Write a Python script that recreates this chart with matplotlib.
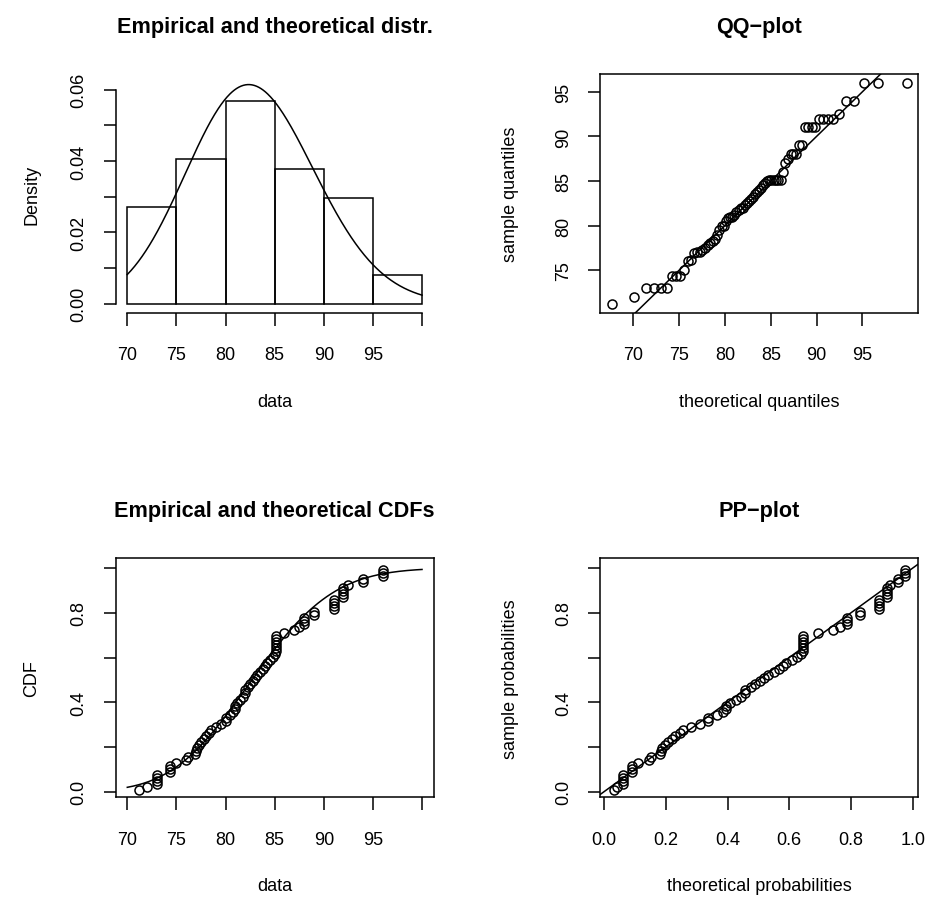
import math
import numpy as np
import matplotlib
matplotlib.use("Agg")
import matplotlib.pyplot as plt

plt.rcParams['font.family'] = ['Liberation Sans', 'DejaVu Sans']

data = [71.2, 72.0, 73.0, 73.0, 73.0, 73.0, 74.3, 74.3, 74.3, 75.0,
        76.0, 76.2, 76.9, 77.0, 77.1, 77.3, 77.5, 77.8, 78.0, 78.3,
        78.5, 79.0, 79.5, 80.0, 80.0,
        80.5, 80.8, 81.0, 81.0, 81.2, 81.5, 81.8, 82.0, 82.0, 82.3,
        82.5, 82.8, 83.0, 83.2, 83.5, 83.8, 84.0, 84.2, 84.5, 84.8, 85.0,
        85.1, 85.1, 85.1, 85.1, 85.1, 85.1, 86.0, 87.0, 87.5, 88.0,
        88.0, 88.0, 89.0, 89.0,
        91.0, 91.0, 91.0, 91.0, 92.0, 92.0, 92.0, 92.0, 92.5, 94.0, 94.0,
        96.0, 96.0, 96.0]
breaks = [70, 75, 80, 85, 90, 95, 100]

# fitted distribution (gamma)
shape = 162.0
rate = 1.955

LW = 1.1
FS = 12.96
W, H = 930, 903


def gamma_pdf(x):
    x = np.asarray(x, dtype=float)
    return np.exp(shape * math.log(rate) - math.lgamma(shape)
                  + (shape - 1) * np.log(x) - rate * x)


grid = np.linspace(40, 140, 20001)
pg = gamma_pdf(grid)
cdf_grid = np.concatenate([[0.0], np.cumsum((pg[1:] + pg[:-1]) / 2 * np.diff(grid))])
cdf_grid /= cdf_grid[-1]


def gamma_cdf(x):
    return np.interp(x, grid, cdf_grid)


def gamma_ppf(p):
    return np.interp(p, cdf_grid, grid)


x = np.sort(np.array(data))
n = len(x)
probs = (np.arange(1, n + 1) - 0.5) / n

# histogram, right-closed bins like R
idx = np.clip(np.searchsorted(breaks, x, side='left') - 1, 0, len(breaks) - 2)
counts = np.bincount(idx, minlength=len(breaks) - 1)
dens = counts / (n * np.diff(breaks))

fig = plt.figure(figsize=(W / 100, H / 100), dpi=100)


def place(l, t, w=318.3, h=239.0):
    return fig.add_axes([l / W, 1 - (t + h) / H, w / W, h / H])


def r_style(ax, title, xlab, ylab, xt, xl, yt, yl, title_y, ylab_x):
    for s in ax.spines.values():
        s.set_linewidth(LW)
    ax.set_xticks(xt, xl)
    ax.set_yticks(yt, yl)
    ax.tick_params(direction='out', length=9, width=LW, labelsize=FS)
    ax.tick_params(axis='x', pad=15)
    ax.tick_params(axis='y', pad=11)
    plt.setp(ax.get_yticklabels(), rotation=90, va='center')
    ax.set_title(title, fontsize=15.55, fontweight='bold', y=title_y, pad=0, va='center')
    ax.set_xlabel(xlab, fontsize=FS, va='center')
    ax.set_ylabel(ylab, fontsize=FS, va='center')
    ax.xaxis.set_label_coords(0.5, -0.37)
    ax.yaxis.set_label_coords(ylab_x, 0.5)


pt = dict(marker='o', linestyle='none', ms=6.5, mfc='none', mec='black', mew=LW)

# density
ax1 = place(115.5, 75)
ax1.bar(breaks[:-1], dens, width=np.diff(breaks), align='edge',
        fill=False, edgecolor='black', linewidth=LW)
xs = np.linspace(breaks[0], breaks[-1], 400)
ax1.plot(xs, gamma_pdf(xs), color='black', lw=LW)
ax1.set_xlim(68.8, 101.2)
ax1.set_ylim(-0.0026, 0.0644)
for s in ['top', 'right']:
    ax1.spines[s].set_visible(False)
ax1.spines['left'].set_bounds(0, 0.06)
ax1.spines['bottom'].set_bounds(70, 100)
r_style(ax1, 'Empirical and theoretical distr.', 'data', 'Density',
        breaks, ['70', '75', '80', '85', '90', '95', ''],
        [0, 0.01, 0.02, 0.03, 0.04, 0.05, 0.06],
        ['0.00', '', '0.02', '', '0.04', '', '0.06'], 1.197, -0.262)

# QQ
ax2 = place(600, 75)
tq = gamma_ppf(probs)
ax2.plot(tq, x, **pt)
pad_x = 0.04 * (tq.max() - tq.min())
pad_y = 0.04 * (x.max() - x.min())
ax2.set_xlim(tq.min() - pad_x, tq.max() + pad_x)
ax2.set_ylim(x.min() - pad_y, x.max() + pad_y)
ax2.axline((80, 80), slope=1, color='black', lw=LW)
r_style(ax2, 'QQ\u2212plot', 'theoretical quantiles', 'sample quantiles',
        [70, 75, 80, 85, 90, 95], ['70', '75', '80', '85', '90', '95'],
        [75, 80, 85, 90, 95], ['75', '80', '85', '90', '95'], 1.197, -0.28)

# CDF
ax3 = place(115.5, 559.3)
ax3.plot(xs, gamma_cdf(xs), color='black', lw=LW)
ax3.plot(x, probs, **pt)
ax3.set_xlim(68.8, 101.2)
ax3.set_ylim(-0.025, 1.0436)
r_style(ax3, 'Empirical and theoretical CDFs', 'data', 'CDF',
        breaks, ['70', '75', '80', '85', '90', '95', ''],
        [0, 0.2, 0.4, 0.6, 0.8, 1.0], ['0.0', '', '0.4', '', '0.8', ''], 1.202, -0.262)

# PP
ax4 = place(600, 559.3)
ax4.plot(gamma_cdf(x), probs, **pt)
ax4.set_xlim(-0.013, 1.018)
ax4.set_ylim(-0.025, 1.0436)
ax4.axline((0, 0), slope=1, color='black', lw=LW)
r_style(ax4, 'PP\u2212plot', 'theoretical probabilities', 'sample probabilities',
        [0, 0.2, 0.4, 0.6, 0.8, 1.0], ['0.0', '0.2', '0.4', '0.6', '0.8', '1.0'],
        [0, 0.2, 0.4, 0.6, 0.8, 1.0], ['0.0', '', '0.4', '', '0.8', ''], 1.202, -0.28)

fig.savefig('out.png', dpi=100)
